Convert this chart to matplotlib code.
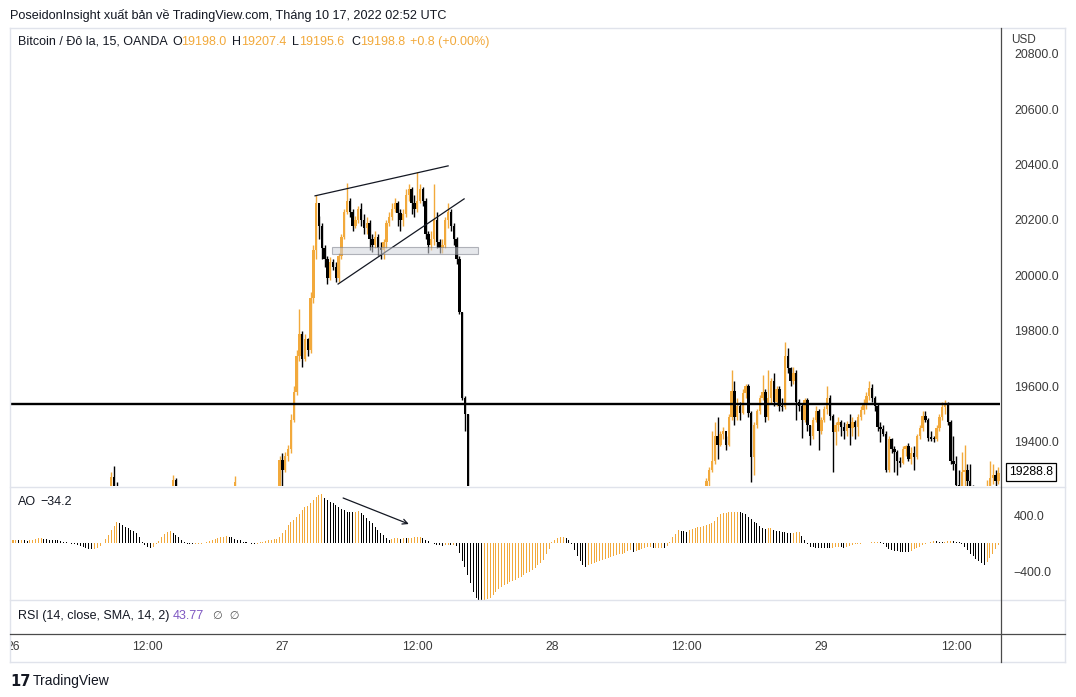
import numpy as np
import matplotlib
matplotlib.use("Agg")
import matplotlib.pyplot as plt
from matplotlib.lines import Line2D
from matplotlib.patches import Rectangle

plt.rcParams['font.family'] = ['Liberation Sans', 'DejaVu Sans']

# ------------------------------------------------------------------ data
# bar index: 0 = 26 Sep 00:00, one bar = 15 minutes
time_tick_idx = [0, 48, 96, 144, 192, 240, 288, 336]
time_tick_lab = ['26', '12:00', '27', '12:00', '28', '12:00', '29', '12:00']
price_ticks = [19400, 19600, 19800, 20000, 20200, 20400, 20600, 20800]
ao_ticks = [400, -400]

# isolated early candles (only wicks reach into the view)
e1_start, e1_open = 35, 19220
e1_close = [19275, 19230, 19225]
e1_high = [19290, 19313, 19255]
e1_low = [19190, 19180, 19200]

e2_start, e2_open = 57, 19230
e2_close = [19262, 19240]
e2_high = [19281, 19270]
e2_low = [19200, 19210]

e3_start, e3_open = 79, 19235
e3_close = [19255]
e3_high = [19278]
e3_low = [19210]

# rally on the 27th and the drop
a_start, a_open = 95, 19240
a_close = [19335, 19300, 19350, 19375, 19480, 19580, 19710, 19790, 19700, 19770,
           19730, 19920, 20090, 20260, 20180, 20100, 20060, 19990, 20050, 20030,
           19990, 20070, 20140, 20230, 20270, 20230, 20180, 20200, 20240, 20200,
           20170, 20190, 20130, 20110, 20140, 20100, 20090, 20120, 20190, 20210,
           20240, 20260, 20225, 20200, 20220, 20290, 20310, 20260, 20240, 20270,
           20310, 20270, 20150, 20110, 20130, 20200, 20120, 20100, 20110, 20200,
           20230, 20180, 20130, 20060, 19870, 19560, 19500, 19100]
a_high = [19350, 19360, 19365, 19390, 19500, 19600, 19730, 19880, 19800, 19790,
          19775, 19940, 20110, 20290, 20215, 20190, 20110, 20070, 20065, 20060,
          20050, 20080, 20150, 20240, 20335, 20280, 20240, 20215, 20250, 20260,
          20220, 20210, 20200, 20150, 20160, 20150, 20120, 20130, 20200, 20230,
          20260, 20280, 20270, 20240, 20240, 20310, 20330, 20320, 20290, 20373,
          20330, 20320, 20280, 20160, 20160, 20330, 20230, 20130, 20130, 20210,
          20260, 20240, 20190, 20140, 20070, 19870, 19565, 19500]
a_low = [19230, 19240, 19290, 19330, 19360, 19470, 19570, 19690, 19670, 19690,
         19710, 19720, 19900, 20060, 20130, 20060, 20030, 19970, 19985, 20020,
         19975, 19975, 20060, 20130, 20220, 20210, 20160, 20170, 20190, 20180,
         20150, 20150, 20090, 20085, 20100, 20075, 20060, 20060, 20100, 20180,
         20200, 20230, 20180, 20160, 20180, 20210, 20270, 20220, 20210, 20230,
         20260, 20250, 20130, 20080, 20090, 20110, 20100, 20080, 20080, 20100,
         20170, 20160, 20110, 20040, 19860, 19550, 19440, 19000]

# recovery on the 28th/29th
b_start, b_open = 247, 19220
b_close = [19260, 19300, 19330, 19420, 19390, 19430, 19440, 19390, 19490, 19585,
           19490, 19530, 19505, 19575, 19600, 19505, 19345, 19460, 19510, 19560,
           19580, 19490, 19560, 19620, 19545, 19590, 19530, 19525, 19710, 19665,
           19620, 19650, 19545, 19530, 19480, 19550, 19460, 19420, 19480, 19510,
           19440, 19480, 19520, 19560, 19495, 19435, 19460, 19470, 19455, 19440,
           19465, 19450, 19470, 19455, 19490, 19515, 19540, 19565, 19595, 19560,
           19530, 19455, 19445, 19430, 19300, 19410, 19375, 19365, 19330, 19325,
           19375, 19385, 19340, 19360, 19345, 19420, 19450, 19495, 19480, 19415,
           19412, 19410, 19450, 19490, 19525, 19535, 19470, 19330, 19320, 19245,
           19230, 19290, 19300, 19260, 19240, 19180, 19150, 19170, 19140, 19190,
           19220, 19270, 19280, 19260, 19288.8]
b_high = [19270, 19310, 19440, 19470, 19490, 19440, 19455, 19420, 19500, 19660,
          19620, 19560, 19545, 19590, 19610, 19610, 19510, 19470, 19520, 19570,
          19640, 19590, 19660, 19630, 19650, 19600, 19600, 19560, 19760, 19740,
          19670, 19670, 19660, 19555, 19540, 19560, 19560, 19460, 19490, 19530,
          19520, 19490, 19530, 19600, 19570, 19500, 19470, 19490, 19480, 19470,
          19475, 19500, 19490, 19480, 19500, 19530, 19555, 19580, 19620, 19610,
          19565, 19540, 19470, 19460, 19440, 19420, 19415, 19385, 19370, 19345,
          19385, 19390, 19395, 19380, 19385, 19430, 19460, 19510, 19510, 19485,
          19440, 19420, 19460, 19500, 19545, 19550, 19545, 19480, 19420, 19350,
          19300, 19364, 19389, 19320, 19320, 19245, 19200, 19190, 19180, 19230,
          19263, 19330, 19320, 19300, 19310]
b_low = [19200, 19230, 19290, 19320, 19340, 19385, 19410, 19370, 19385, 19480,
         19460, 19480, 19480, 19500, 19560, 19490, 19255, 19280, 19450, 19500,
         19550, 19470, 19480, 19540, 19530, 19530, 19510, 19510, 19520, 19650,
         19600, 19610, 19480, 19510, 19415, 19470, 19440, 19390, 19410, 19470,
         19370, 19430, 19470, 19500, 19480, 19290, 19390, 19440, 19420, 19410,
         19420, 19390, 19420, 19410, 19420, 19480, 19500, 19520, 19550, 19545,
         19510, 19440, 19400, 19420, 19290, 19290, 19360, 19290, 19280, 19310,
         19320, 19350, 19330, 19320, 19300, 19340, 19410, 19440, 19470, 19405,
         19405, 19400, 19405, 19440, 19480, 19500, 19460, 19320, 19300, 19200,
         19150, 19220, 19240, 19230, 19200, 19150, 19120, 19130, 19100, 19130,
         19180, 19210, 19250, 19240, 19250]

# Awesome Oscillator, one value per bar from index -1
ao_start = -1
ao_values = [30, 36, 40, 38, 40, 36, 34, 40, 50, 60,
             66, 66, 60, 56, 50, 44, 40, 36, 28, 20,
             10, 4, -10, -20, -30, -44, -56, -70, -80, -90,
             -84, -70, -40, 0, 60, 120, 190, 250, 300, 290,
             264, 230, 210, 190, 170, 140, 90, 20, -30, -60,
             -76, -60, -20, 30, 90, 130, 160, 176, 150, 120,
             80, 40, 10, -10, -16, -20, -16, -12, -10, -6,
             10, 24, 40, 56, 70, 80, 90, 96, 90, 80,
             64, 50, 36, 20, 8, -4, -12, -16, -10, 10,
             20, 24, 36, 44, 56, 64, 90, 140, 190, 260,
             300, 330, 370, 420, 470, 510, 530, 570, 620, 660,
             690, 695, 640, 620, 590, 570, 540, 510, 490, 470,
             450, 444, 440, 450, 456, 430, 400, 360, 320, 280,
             230, 190, 150, 110, 70, 50, 60, 70, 76, 64,
             70, 66, 72, 76, 80, 84, 90, 70, 50, 24,
             0, -10, -24, -30, -36, -32, -28, -30, -26, -40,
             -148, -250, -338, -450, -576, -700, -790, -820, -830, -810,
             -800, -780, -740, -700, -660, -624, -600, -580, -560, -545,
             -528, -505, -480, -455, -430, -410, -386, -350, -310, -280,
             -243, -160, -80, 20, 50, 70, 85, 90, 70, 40,
             -20, -100, -180, -250, -310, -348, -320, -300, -285, -270,
             -255, -240, -225, -215, -200, -190, -175, -160, -150, -140,
             -110, -100, -124, -110, -95, -80, -70, -60, -52, -76,
             -76, -76, -76, -78, -40, 20, 80, 130, 186, 170,
             165, 160, 180, 195, 210, 225, 233, 245, 260, 270,
             281, 320, 370, 410, 424, 430, 436, 438, 445, 447,
             440, 424, 410, 376, 340, 300, 281, 250, 209, 205,
             209, 212, 186, 175, 168, 160, 155, 150, 148, 150,
             152, 155, 100, 43, -20, -52, -60, -65, -70, -72,
             -74, -76, -77, -70, -60, -50, -60, -70, -55, -40,
             -30, -20, -15, -10, -5, 0, 5, 10, 15, 19,
             10, -20, -52, -80, -100, -110, -118, -122, -124, -126,
             -127, -110, -90, -76, -55, -35, -15, 5, 19, 28,
             24, 20, 15, 20, 28, 30, 26, 20, 10, -20,
             -60, -100, -150, -190, -230, -260, -290, -314, -270, -210,
             -150, -90, -34.2]

h_level = 19537                               # horizontal support line
wedge_upper = ([107.6, 155.0], [20287, 20395])  # drawn trend lines
wedge_lower = ([115.8, 160.7], [19969, 20276])
zone_x, zone_w, zone_y0, zone_y1 = 113.6, 52.1, 20078, 20103
ao_arrow_from, ao_arrow_to = (117.6, 643), (141.0, 271)
last_price = 19288.8

# ------------------------------------------------------------------ style
UP = '#F2A93B'
DN = '#000000'
TXT = '#131722'
AXT = '#3b3b3b'
GRID = '#E0E3EB'
W, H = 1076, 697
XL = (-1.07, 351.6)

fig = plt.figure(figsize=(W / 100, H / 100), dpi=100)
fig.patch.set_facecolor('white')


def add_ax(l, t, r, b):
    a = fig.add_axes([l / W, 1 - b / H, (r - l) / W, (b - t) / H])
    for s in a.spines.values():
        s.set_visible(False)
    a.set_xlim(*XL)
    a.set_xticks([])
    a.set_facecolor('none')
    return a


def fx(px):
    return px / W


def fy(py):
    return 1 - py / H


# ---------------- main price pane
ax = add_ax(10, 28, 1000, 486)
ax.set_ylim(19241, 20892)
ax.yaxis.tick_right()
ax.set_yticks(price_ticks)
ax.set_yticklabels(['%.1f' % v for v in price_ticks])
ax.tick_params(axis='y', length=0, pad=10, labelsize=8.9, labelcolor=AXT)

segments = [
    (e1_start, e1_open, e1_close, e1_high, e1_low),
    (e2_start, e2_open, e2_close, e2_high, e2_low),
    (e3_start, e3_open, e3_close, e3_high, e3_low),
    (a_start, a_open, a_close, a_high, a_low),
    (b_start, b_open, b_close, b_high, b_low),
]
for start, op0, cl, hi, lo in segments:
    cl = np.array(cl, float)
    hi = np.array(hi, float)
    lo = np.array(lo, float)
    op = np.concatenate([[op0], cl[:-1]])
    idx = np.arange(start, start + len(cl))
    cols = [UP if c >= o else DN for o, c in zip(op, cl)]
    ax.vlines(idx, lo, hi, colors=cols, lw=1.0, zorder=2)
    ax.bar(idx, np.maximum(np.abs(cl - op), 4), bottom=np.minimum(op, cl),
           width=0.85, color=cols, linewidth=0, zorder=3)

ax.axhline(h_level, color='black', lw=1.7, zorder=5)
ax.plot(*wedge_upper, color=TXT, lw=0.9, zorder=6)
ax.plot(*wedge_lower, color=TXT, lw=0.9, zorder=6)
ax.add_patch(Rectangle((zone_x, zone_y0), zone_w, zone_y1 - zone_y0,
                       facecolor='#D1D4DC', alpha=0.55, edgecolor='#787B86',
                       lw=0.8, zorder=6))

# ---------------- AO pane
ax2 = add_ax(10, 487, 1000, 600)
ax2.set_ylim(-814, 800)
ao = np.array(ao_values, float)
ao_idx = np.arange(ao_start, ao_start + len(ao))
ao_cols = [UP] + [UP if ao[k] >= ao[k - 1] else DN for k in range(1, len(ao))]
ax2.bar(ao_idx, ao, width=0.36, color=ao_cols, linewidth=0)
ax2.yaxis.tick_right()
ax2.set_yticks(ao_ticks)
ax2.set_yticklabels(['400.0', '\u2212400.0'])
ax2.tick_params(axis='y', length=0, pad=10, labelsize=8.9, labelcolor=AXT)
ax2.annotate('', xy=ao_arrow_to, xytext=ao_arrow_from,
             arrowprops=dict(arrowstyle='->', color=TXT, lw=0.9,
                             shrinkA=0, shrinkB=0, mutation_scale=9))

# ---------------- RSI pane (empty)
ax3 = add_ax(10, 600, 1000, 634)
ax3.set_yticks([])

# ---------------- time axis
ax4 = add_ax(10, 634, 1000, 662)
ax4.set_ylim(0, 1)
ax4.set_yticks([])
for ti, tl in zip(time_tick_idx, time_tick_lab):
    ax4.text(ti, 0.55, tl, ha='center', va='center', fontsize=8.7,
             color=AXT, clip_on=True)

# ---------------- frame lines
def fline(x0, y0, x1, y1, color, lw):
    fig.add_artist(Line2D([fx(x0), fx(x1)], [fy(y0), fy(y1)], color=color,
                          lw=lw, transform=fig.transFigure))


fline(10, 28, 1065, 28, GRID, 1.0)
fline(10, 28, 10, 662, GRID, 1.0)
fline(1065, 28, 1065, 662, GRID, 1.0)
fline(10, 662, 1065, 662, GRID, 1.0)
fline(10, 486.5, 1065, 486.5, GRID, 1.0)
fline(10, 600, 1065, 600, GRID, 1.0)
fline(10, 633.5, 1065, 633.5, '#4a4a4a', 0.9)
fline(1000.5, 28, 1000.5, 662, '#4a4a4a', 0.9)

# ---------------- texts
fig.text(fx(10), fy(15), 'PoseidonInsight xuất bản về TradingView.com, Tháng 10 17, 2022 02:52 UTC',
         fontsize=9.1, color=TXT, va='center', ha='left')

legend_parts = [
    (18, 'Bitcoin / Đô la, 15, OANDA', TXT),
    (172, 'O', TXT), (181, '19198.0', UP),
    (232, 'H', TXT), (241, '19207.4', UP),
    (292, 'L', TXT), (299, '19195.6', UP),
    (351, 'C', TXT), (360, '19198.8', UP),
    (410, '+0.8 (+0.00%)', UP),
]
for px, s, c in legend_parts:
    fig.text(fx(px), fy(42), s, fontsize=9, color=c, va='center', ha='left')

fig.text(fx(1011), fy(40), 'USD', fontsize=8.5, color=AXT, va='center', ha='left')

fig.text(fx(18), fy(502), 'AO', fontsize=9, color=TXT, va='center', ha='left')
fig.text(fx(40), fy(502), '\u221234.2', fontsize=9, color=TXT, va='center', ha='left')

fig.text(fx(18), fy(616), 'RSI (14, close, SMA, 14, 2)', fontsize=9, color=TXT,
         va='center', ha='left')
fig.text(fx(173), fy(616), '43.77', fontsize=9, color='#7E57C2', va='center', ha='left')
fig.text(fx(213), fy(616), '\u2205  \u2205', fontsize=8, color='#555555',
         va='center', ha='left', family=['DejaVu Sans'])

fig.text(fx(1031), fy(472), '%.1f' % last_price, fontsize=8.8, color='black',
         va='center', ha='center',
         bbox=dict(boxstyle='square,pad=0.22', fc='white', ec='black', lw=0.9))

fig.text(fx(10), fy(681), '17', fontsize=10.5, fontweight='heavy', color=TXT,
         va='center', ha='left', family=['DejaVu Sans'])
fig.text(fx(33), fy(681), 'TradingView', fontsize=10, color=TXT, va='center', ha='left')

fig.savefig('out.png', dpi=100, facecolor='white')
